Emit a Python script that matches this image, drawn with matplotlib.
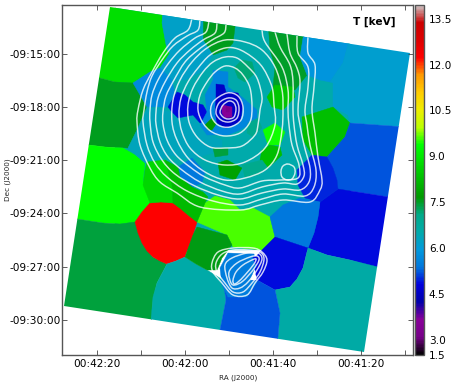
import matplotlib
matplotlib.use('agg')

import matplotlib.pyplot as plt
import numpy as np
from matplotlib.cm import ScalarMappable
from matplotlib.collections import PolyCollection
from matplotlib.colors import Normalize
from matplotlib.patches import PathPatch, Polygon
from matplotlib.path import Path

field_corners = [(110, 7), (410, 53), (364, 352), (64, 306)]

ra_ticks = [97.3, 141.3, 185.3, 229.3, 273.3, 317.3, 361.3, 405.3]
ra_labels = ['00:42:20', '', '00:42:00', '', '00:41:40', '', '00:41:20', '']
dec_ticks = [53.5, 106.8, 160, 213.3, 266.7, 320]
dec_labels = ['-09:15:00', '-09:18:00', '-09:21:00', '-09:24:00', '-09:27:00', '-09:30:00']

t_min, t_max = 2.51, 13.96
cbar_ticks = [2.51, 3.0, 4.5, 6.0, 7.5, 9.0, 10.5, 12.0, 13.5]
cbar_labels = ['1.5', '3.0', '4.5', '6.0', '7.5', '9.0', '10.5', '12.0', '13.5']

# temperature of each region, same order as cell_outlines (later ones paint over)
cell_temps = [6.5, 8.85, 7.55, 9.38, 7.4, 12.24, 6.57, 9.6, 7.6, 7.55, 7.5, 8.45,
              5.9, 6.1, 8.3, 5.2, 4.85, 5.0, 5.4, 4.85, 6.6, 5.2, 5.5, 4.85,
              6.2, 5.7, 6.35, 4.85, 5.6, 4.55, 3.6, 3.2, 7.7, 7.2, 7.4, 7.8,
              5.4, 7.0, 9.4, 8.3, 7.0, 8.7, 8.2]
cell_outlines = [
    [(115, 0), (350, 0), (350, 250), (115, 250)],
    [(100, -5), (163, -5), (162, 23), (167, 50), (170, 53), (160, 68), (150, 72), (133, 83), (115, 82), (100, 78), (85, 78)],
    [(85, 78), (100, 78), (115, 82), (133, 83), (141, 95), (147, 107), (143, 120), (137, 130), (128, 148), (105, 147), (89, 145), (75, 145)],
    [(70, 145), (89, 145), (105, 147), (123, 148), (135, 155), (145, 163), (143, 180), (150, 203), (142, 212), (135, 222), (120, 224), (103, 223), (77, 219), (60, 219)],
    [(50, 219), (77, 219), (103, 223), (120, 224), (135, 222), (142, 243), (153, 257), (167, 264), (157, 283), (153, 300), (151, 330), (50, 330)],
    [(150, 203), (161, 202), (173, 203), (181, 209), (188, 215), (197, 222), (193, 235), (189, 246), (185, 257), (176, 261), (167, 264), (160, 261), (153, 257), (147, 251), (142, 243), (138, 233), (135, 222), (142, 212)],
    [(167, 264), (176, 261), (185, 257), (196, 264), (207, 270), (223, 280), (226, 300), (220, 330), (220, 345), (150, 345), (151, 320), (153, 297), (157, 283)],
    [(197, 222), (205, 203), (215, 196), (230, 200), (240, 210), (253, 208), (270, 217), (275, 237), (262, 250), (233, 247), (227, 235)],
    [(197, 227), (227, 235), (232, 245), (222, 258), (217, 270), (207, 270), (196, 264), (185, 257), (189, 246), (193, 235)],
    [(203, 10), (237, 10), (235, 27), (233, 43), (227, 50), (213, 55), (203, 40), (203, 22)],
    [(268, 20), (308, 20), (303, 38), (300, 57), (307, 75), (295, 90), (288, 90), (273, 87), (275, 67), (270, 50)],
    [(275, 85), (293, 87), (295, 97), (283, 110), (272, 107), (267, 97)],
    [(308, 20), (350, 20), (348, 45), (343, 63), (330, 82), (320, 80), (307, 75), (300, 57), (303, 38)],
    [(348, 20), (420, 20), (405, 127), (350, 123), (348, 115), (333, 107), (333, 83), (330, 82), (343, 63), (348, 45)],
    [(333, 107), (350, 123), (345, 137), (327, 157), (312, 155), (303, 140), (302, 117)],
    [(350, 123), (405, 127), (395, 198), (338, 189), (337, 180), (333, 168), (327, 157), (345, 137)],
    [(338, 189), (395, 198), (385, 270), (350, 260), (327, 255), (308, 248), (314, 233), (318, 217), (320, 202)],
    [(312, 155), (327, 157), (333, 168), (337, 180), (338, 189), (320, 202), (305, 198), (298, 185), (297, 170)],
    [(270, 217), (283, 205), (300, 198), (320, 202), (318, 217), (314, 233), (308, 248), (275, 237)],
    [(275, 237), (308, 248), (303, 268), (297, 279), (290, 287), (275, 290), (257, 280), (253, 260), (262, 250)],
    [(308, 248), (327, 255), (350, 260), (390, 270), (385, 360), (276, 360), (280, 313), (275, 290), (290, 287), (297, 279), (303, 268)],
    [(223, 280), (240, 282), (257, 280), (275, 290), (280, 313), (276, 360), (215, 360), (220, 330), (226, 300)],
    [(220, 268), (228, 253), (254, 254), (256, 265), (250, 280), (257, 282), (247, 297), (228, 297), (222, 285)],
    [(253, 257), (258, 256), (259, 262), (255, 264)],
    [(163, 10), (203, 10), (203, 40), (213, 55), (205, 70), (185, 80), (172, 80), (160, 68), (170, 53), (167, 50), (162, 23)],
    [(133, 83), (150, 72), (160, 68), (172, 80), (175, 95), (167, 107), (147, 107)],
    [(147, 107), (172, 112), (178, 118), (193, 115), (200, 125), (207, 135), (222, 140), (222, 150), (190, 160), (170, 155), (150, 165), (145, 163), (128, 148), (137, 130)],
    [(168, 107), (177, 92), (185, 95), (193, 102), (203, 105), (207, 112), (208, 123), (200, 123), (193, 115), (178, 118), (172, 112)],
    [(205, 95), (213, 80), (213, 70), (228, 72), (228, 87), (242, 97), (257, 110), (257, 120), (240, 130), (228, 135), (207, 135), (200, 125), (207, 112)],
    [(216, 84), (224, 85), (226, 92), (238, 93), (243, 105), (240, 122), (226, 128), (217, 123), (215, 112), (216, 98)],
    [(222, 105), (232, 107), (232, 117), (225, 118), (222, 113)],
    [(226, 106), (230, 108), (229, 112), (226, 112)],
    [(205, 125), (212, 118), (216, 124), (212, 130), (208, 130)],
    [(234, 68), (242, 60), (252, 62), (255, 73), (245, 82), (238, 78)],
    [(213, 148), (228, 148), (228, 155), (215, 157)],
    [(218, 163), (227, 160), (242, 168), (235, 180), (220, 175)],
    [(178, 167), (192, 158), (205, 172), (202, 183), (192, 187), (180, 177)],
    [(248, 123), (258, 118), (262, 128), (253, 137), (247, 133)],
    [(263, 130), (275, 123), (285, 132), (280, 145), (268, 145)],
    [(262, 150), (270, 145), (280, 147), (282, 155), (268, 168), (260, 160)],
    [(242, 165), (262, 160), (268, 168), (258, 175), (245, 178)],
    [(145, 170), (147, 162), (165, 160), (172, 185), (173, 203), (161, 202), (150, 203), (143, 185)],
    [(165, 160), (178, 167), (180, 177), (192, 187), (203, 192), (208, 197), (205, 203), (197, 222), (188, 215), (181, 209), (173, 203), (172, 185)],
]

# surface brightness contours, open ones end on the field edge
open_contours = [
    [(192, 18), (188, 30), (175, 38), (163, 53), (152, 72), (143, 90), (138, 110), (137, 122), (140, 145), (150, 168), (160, 182), (177, 193), (200, 207), (240, 210), (260, 205), (283, 200), (310, 202), (320, 190), (322, 180), (318, 157), (315, 133), (312, 110), (314, 87), (315, 65), (308, 53), (308, 37)],
    [(200, 19), (198, 30), (187, 36), (173, 46), (162, 60), (152, 76), (147, 92), (144, 110), (143, 122), (147, 145), (155, 163), (167, 177), (187, 191), (213, 201), (240, 205), (262, 199), (283, 194), (305, 196), (314, 187), (316, 170), (310, 145), (307, 125), (305, 110), (308, 87), (308, 67), (298, 53), (297, 36)],
    [(209, 21), (206, 32), (195, 38), (180, 50), (168, 64), (158, 80), (152, 95), (150, 110), (150, 122), (153, 142), (162, 160), (175, 174), (195, 186), (218, 195), (240, 199), (262, 193), (283, 189), (300, 190), (309, 182), (310, 168), (304, 145), (300, 125), (298, 110), (300, 82), (297, 68), (290, 53), (287, 34)],
    [(217, 23), (215, 33), (203, 40), (190, 50), (177, 63), (165, 82), (158, 98), (156, 112), (156, 124), (160, 142), (168, 157), (182, 170), (200, 182), (222, 191), (240, 194), (262, 187), (283, 183), (297, 184), (304, 176), (303, 165), (297, 145), (294, 125), (293, 110), (293, 82), (290, 65), (280, 47), (275, 32)],
    [(226, 25), (224, 33), (212, 40), (198, 50), (185, 62), (174, 80), (166, 96), (163, 112), (163, 124), (167, 140), (176, 155), (190, 167), (205, 177), (225, 185), (240, 188), (262, 181), (280, 180), (298, 178), (299, 165), (292, 145), (289, 125), (288, 110), (288, 90), (282, 67), (265, 42), (262, 30)],
]
closed_contours = [
    [(225, 40), (245, 42), (262, 50), (275, 67), (282, 90), (283, 110), (282, 130), (277, 155), (265, 170), (245, 178), (225, 180), (205, 172), (188, 158), (177, 140), (172, 122), (173, 100), (180, 80), (192, 62), (207, 48)],
    [(225, 48), (238, 49), (252, 57), (263, 68), (272, 87), (274, 105), (275, 125), (265, 148), (245, 162), (225, 165), (205, 160), (190, 148), (182, 132), (179, 115), (181, 98), (188, 82), (198, 68), (210, 55)],
    [(225, 57), (237, 58), (248, 67), (257, 78), (262, 97), (260, 110), (258, 125), (255, 135), (242, 146), (225, 148), (210, 147), (197, 137), (189, 122), (188, 105), (193, 88), (203, 72), (213, 62)],
    [(225, 66), (235, 68), (243, 75), (250, 88), (252, 107), (250, 122), (240, 133), (225, 136), (212, 132), (203, 123), (198, 110), (200, 95), (207, 82), (215, 72)],
    [(227, 93), (238, 96), (243, 107), (241, 120), (230, 127), (218, 125), (211, 115), (213, 102)],
    [(228, 98), (236, 100), (239, 108), (237, 118), (229, 122), (221, 120), (216, 113), (219, 103)],
    [(229, 101), (234, 103), (236, 109), (234, 117), (228, 119), (223, 117), (220, 112), (223, 105)],
    [(288, 164), (294, 167), (295, 173), (292, 179), (287, 180), (282, 177), (281, 171), (283, 166)],
    [(212, 263), (218, 252), (233, 248), (253, 248), (262, 252), (267, 260), (263, 272), (255, 283), (247, 295), (233, 295), (222, 283), (213, 272)],
    [(216, 263), (222, 254), (233, 250), (248, 250), (260, 252), (264, 259), (260, 272), (252, 283), (243, 292), (233, 292), (225, 283), (217, 272)],
    [(225, 265), (232, 258), (247, 253), (258, 253), (262, 259), (257, 270), (248, 282), (240, 288), (232, 288), (227, 278)],
    [(229, 272), (237, 263), (250, 257), (257, 256), (259, 260), (253, 270), (243, 281), (235, 285), (231, 283)],
    [(233, 280), (236, 272), (243, 265), (252, 260), (256, 259), (254, 264), (245, 275), (238, 282), (234, 284)],
]


def smooth_path(pts, closed):
    # catmull-rom through the read points, written as cubic beziers
    pts = np.array(pts, dtype=float)
    n = len(pts)
    verts = [pts[0]]
    codes = [Path.MOVETO]
    for i in range(n if closed else n - 1):
        if closed:
            p0, p1, p2, p3 = pts[(i - 1) % n], pts[i], pts[(i + 1) % n], pts[(i + 2) % n]
        else:
            p0, p1, p2, p3 = pts[max(i - 1, 0)], pts[i], pts[i + 1], pts[min(i + 2, n - 1)]
        verts += [p1 + (p2 - p0) / 6, p2 - (p3 - p1) / 6, p2]
        codes += [Path.CURVE4] * 3
    return Path(verts, codes)


plt.rcParams['font.family'] = 'DejaVu Sans'
fig = plt.figure(figsize=(4.54, 3.88), dpi=100)
ax = fig.add_axes([62 / 454, 33 / 388, 350.6 / 454, 350.4 / 388])
ax.set_xlim(62, 412.6)
ax.set_ylim(355, 4.6)

norm = Normalize(t_min, t_max)
cmap = plt.get_cmap('nipy_spectral')

field = Polygon(field_corners, closed=True, transform=ax.transData, fc='none', ec='none')
ax.add_patch(field)

cells = PolyCollection(cell_outlines, array=np.array(cell_temps), cmap=cmap, norm=norm,
                       edgecolors='face', linewidths=0.3)
ax.add_collection(cells)
cells.set_clip_path(field)

for c in open_contours:
    p = PathPatch(smooth_path(c, False), fc='none', ec='white', lw=1.05, alpha=0.8)
    ax.add_patch(p)
    p.set_clip_path(field)
for c in closed_contours:
    p = PathPatch(smooth_path(c, True), fc='none', ec='white', lw=1.05, alpha=0.8)
    ax.add_patch(p)
    p.set_clip_path(field)

ax.set_xticks(ra_ticks)
ax.set_xticklabels(ra_labels)
ax.set_yticks(dec_ticks)
ax.set_yticklabels(dec_labels)
ax.tick_params(direction='in', top=True, right=True, length=3.5, width=0.6, color='#444444',
               labelsize=7.6, pad=3)
ax.tick_params(axis='y', pad=1)
for s in ax.spines.values():
    s.set_color('#555555')
    s.set_linewidth(1.0)

fig.text(238 / 454, 1 - 378 / 388, 'RA (J2000)', fontsize=5.2, ha='center', va='center', color='#222222')
fig.text(8 / 454, 1 - 180 / 388, 'Dec (J2000)', fontsize=5.2, rotation=90, ha='center', va='center', color='#222222')
ax.text(396, 22, 'T [keV]', fontsize=7.6, fontweight='bold', ha='right', va='center')

cax = fig.add_axes([415 / 454, 33 / 388, 9 / 454, 350.4 / 388])
cb = fig.colorbar(ScalarMappable(norm=norm, cmap=cmap), cax=cax)
cb.set_ticks(cbar_ticks)
cb.set_ticklabels(cbar_labels)
cb.ax.tick_params(length=0, labelsize=7.6, pad=3.5)
cb.ax.minorticks_off()
cb.outline.set_edgecolor('#555555')
cb.outline.set_linewidth(1.0)

fig.savefig('out.png', dpi=100)
